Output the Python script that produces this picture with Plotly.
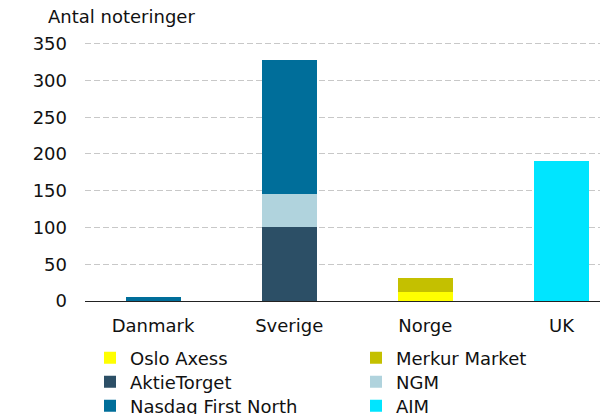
import plotly.graph_objects as go

categories = ["Danmark", "Sverige", "Norge", "UK"]

series_names = ["Oslo Axess", "Merkur Market", "AktieTorget", "NGM", "Nasdaq First North", "AIM"]
oslo_axess = [None, None, 12, None]
merkur_market = [None, None, 19, None]
aktietorget = [None, 101, None, None]
ngm = [None, 45, None, None]
nasdaq_first_north = [5, 182, None, None]
aim = [None, None, None, 190]

series_values = [oslo_axess, merkur_market, aktietorget, ngm, nasdaq_first_north, aim]
series_colors = ["#FFFF00", "#C4C000", "#2C4F66", "#B0D3DD", "#006E9A", "#00E5FF"]

y_ticks = [0, 50, 100, 150, 200, 250, 300, 350]
y_title = "Antal noteringer"

FONT = "DejaVu Sans, Verdana, sans-serif"
TXT = "#111111"

# page body has an 8px margin: figure is drawn 8px right/down in the window
OFF = 8
X0, Y0 = 85, 301          # plot-area left / bottom in window pixels
W, H = 608 - OFF, 414 - OFF
ML, MT = X0 - OFF, 29 - OFF
MB = H - (Y0 - OFF)
PW, PH = W - ML, (Y0 - OFF) - MT


def px_x(x):
    return (x - X0) / PW


def px_y(y):
    return (Y0 - y) / PH


# legend slots: two columns, three rows (window pixels)
col_x = [90, 356]
row_y = [358, 382, 406]

fig = go.Figure()
legend_layout = {}
for i, (name, vals, col) in enumerate(zip(series_names, series_values, series_colors)):
    key = "legend" if i == 0 else f"legend{i + 1}"
    fig.add_trace(go.Bar(
        x=categories, y=vals, name=name,
        marker=dict(color=col, line=dict(width=0)),
        width=0.404, legend=key,
    ))
    legend_layout[key] = dict(
        orientation="v", xanchor="left", yanchor="middle",
        x=px_x(col_x[i % 2]), y=px_y(row_y[i // 2]),
        font=dict(family=FONT, size=18, color=TXT),
        bgcolor="rgba(0,0,0,0)", itemclick=False, itemdoubleclick=False,
    )

fig.update_layout(
    width=W, height=H,
    margin=dict(l=ML, r=0, t=MT, b=MB, autoexpand=False),
    barmode="stack",
    plot_bgcolor="white", paper_bgcolor="white",
    font=dict(family=FONT, size=18, color=TXT),
    showlegend=True,
    xaxis=dict(
        type="category", range=[-0.5, 3.342],
        showgrid=False, showline=True, linecolor="#222222", linewidth=1,
        ticks="", ticklabelstandoff=8,
        tickfont=dict(family=FONT, size=18, color=TXT),
        fixedrange=True,
    ),
    yaxis=dict(
        range=[0, 370], tickvals=y_ticks,
        showgrid=True, gridcolor="#C8C8C8", gridwidth=1, griddash="6px,3px",
        zeroline=False, showline=False, ticks="",
        ticklabelstandoff=17,
        tickfont=dict(family=FONT, size=18, color=TXT),
        fixedrange=True,
    ),
    annotations=[dict(
        text=y_title, xref="paper", yref="paper",
        x=px_x(46), xanchor="left",
        y=px_y(17), yanchor="middle",
        showarrow=False, font=dict(family=FONT, size=18, color=TXT),
    )],
    **legend_layout,
)

fig.write_html("out.html")
